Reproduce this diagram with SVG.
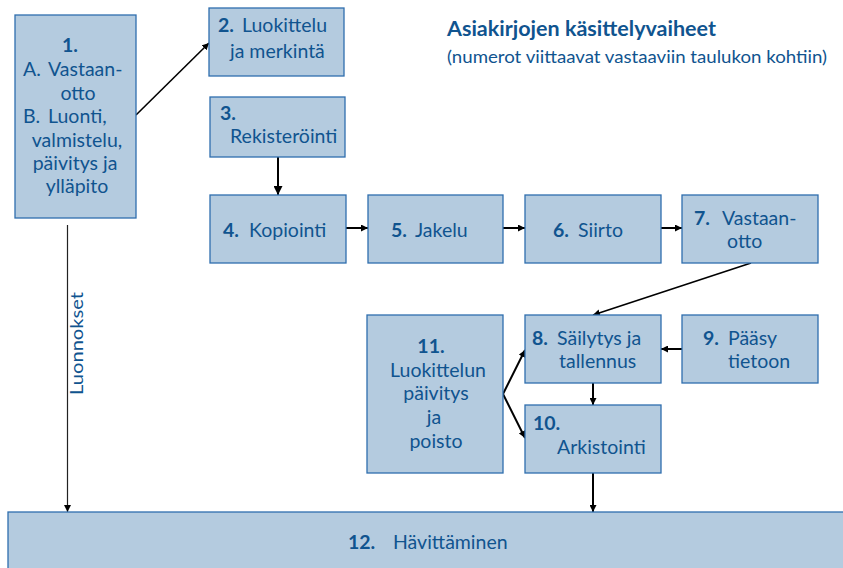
<svg xmlns="http://www.w3.org/2000/svg" width="843" height="568" viewBox="0 0 843 568">
<defs>
<style>
.box{fill:#b4cbdf;stroke:#2e6eae;stroke-width:1.3}
.t{font-family:Lato,"Noto Sans",sans-serif;font-size:19.5px;fill:#10548f}
.b{font-weight:bold}
.m{text-anchor:middle}
.c{stroke:#000;stroke-width:1.6;fill:none}
</style>
<marker id="ah" viewBox="0 0 10 10" refX="10" refY="5" markerWidth="7" markerHeight="7" markerUnits="userSpaceOnUse" orient="auto">
<path d="M0,0 L10,5 L0,10 z" fill="#000"/>
</marker>
<marker id="ah2" viewBox="0 0 10 10" refX="10" refY="5" markerWidth="9" markerHeight="9" markerUnits="userSpaceOnUse" orient="auto">
<path d="M0,0 L10,5 L0,10 z" fill="#000"/>
</marker>
</defs>
<rect width="843" height="568" fill="#fff"/>

<g id="title">
<text x="447" y="36" class="t b" style="font-size:21px" textLength="269" lengthAdjust="spacingAndGlyphs">Asiakirjojen käsittelyvaiheet</text>
<text x="447" y="63" class="t" style="font-size:18px" textLength="380" lengthAdjust="spacingAndGlyphs">(numerot viittaavat vastaaviin taulukon kohtiin)</text>
</g>

<g id="connectors">
<line class="c" x1="136" y1="115" x2="209" y2="43" marker-end="url(#ah)"/>
<line class="c" x1="278" y1="157" x2="278" y2="195" marker-end="url(#ah2)" style="stroke-width:2"/>
<line class="c" x1="346" y1="228" x2="368" y2="228" marker-end="url(#ah)" style="stroke-width:2"/>
<line class="c" x1="503" y1="228" x2="525" y2="228" marker-end="url(#ah)" style="stroke-width:2"/>
<line class="c" x1="661" y1="228" x2="682" y2="228" marker-end="url(#ah)" style="stroke-width:2"/>
<line class="c" x1="751" y1="263" x2="593" y2="315" marker-end="url(#ah)"/>
<line class="c" x1="682" y1="349" x2="661" y2="349" marker-end="url(#ah)" style="stroke-width:2"/>
<line class="c" x1="593" y1="383" x2="593" y2="405" marker-end="url(#ah)" style="stroke-width:2"/>
<line class="c" x1="503" y1="394" x2="525" y2="350" marker-end="url(#ah)" style="stroke-width:2"/>
<line class="c" x1="503" y1="394" x2="525" y2="438" marker-end="url(#ah)" style="stroke-width:2"/>
<line class="c" x1="593" y1="473" x2="593" y2="512" marker-end="url(#ah)" style="stroke-width:2"/>
<line class="c" x1="67.5" y1="225" x2="67.5" y2="512" marker-end="url(#ah)" style="stroke:#222;stroke-width:1.2"/>
<text class="t" style="font-size:17px" transform="translate(83,395) rotate(-90)" textLength="103" lengthAdjust="spacingAndGlyphs">Luonnokset</text>
</g>

<g id="n1">
<rect class="box" x="15" y="15" width="121" height="203"/>
<text class="t b m" x="70" y="52">1.</text>
<text class="t" x="23" y="76">A.<tspan x="48">Vastaan-</tspan></text>
<text class="t m" x="78" y="100">otto</text>
<text class="t" x="23" y="123">B.<tspan x="48">Luonti,</tspan></text>
<text class="t m" x="77" y="147">valmistelu,</text>
<text class="t m" x="75" y="170">päivitys ja</text>
<text class="t m" x="77" y="193">ylläpito</text>
</g>

<g id="n2">
<rect class="box" x="209" y="8" width="135" height="68"/>
<text class="t" x="218" y="32"><tspan class="b">2.</tspan><tspan x="242">Luokittelu</tspan></text>
<text class="t" x="230" y="58">ja merkintä</text>
</g>

<g id="n3">
<rect class="box" x="210" y="97" width="135" height="60"/>
<text class="t b" x="220" y="120">3.</text>
<text class="t" x="230" y="143">Rekisteröinti</text>
</g>

<g id="n4">
<rect class="box" x="210" y="195" width="136" height="68"/>
<text class="t" x="223" y="237"><tspan class="b">4.</tspan><tspan x="249">Kopiointi</tspan></text>
</g>

<g id="n5">
<rect class="box" x="368" y="195" width="135" height="68"/>
<text class="t" x="391" y="237"><tspan class="b">5.</tspan><tspan x="415">Jakelu</tspan></text>
</g>

<g id="n6">
<rect class="box" x="525" y="195" width="136" height="68"/>
<text class="t" x="553" y="237"><tspan class="b">6.</tspan><tspan x="578">Siirto</tspan></text>
</g>

<g id="n7">
<rect class="box" x="682" y="195" width="136" height="68"/>
<text class="t" x="694" y="225"><tspan class="b">7.</tspan><tspan x="722">Vastaan-</tspan></text>
<text class="t" x="727" y="248">otto</text>
</g>

<g id="n8">
<rect class="box" x="525" y="315" width="136" height="68"/>
<text class="t" x="532" y="345"><tspan class="b">8.</tspan><tspan x="557">Säilytys ja</tspan></text>
<text class="t" x="559" y="368">tallennus</text>
</g>

<g id="n9">
<rect class="box" x="682" y="315" width="136" height="68"/>
<text class="t" x="703" y="345"><tspan class="b">9.</tspan><tspan x="728">Pääsy</tspan></text>
<text class="t" x="728" y="368">tietoon</text>
</g>

<g id="n10">
<rect class="box" x="525" y="405" width="136" height="68"/>
<text class="t b" x="533" y="430">10.</text>
<text class="t" x="557" y="454">Arkistointi</text>
</g>

<g id="n11">
<rect class="box" x="367" y="315" width="136" height="158"/>
<text class="t b m" x="431" y="353">11.</text>
<text class="t m" x="438" y="377">Luokittelun</text>
<text class="t m" x="436" y="400">päivitys</text>
<text class="t m" x="434" y="424">ja</text>
<text class="t m" x="436" y="448">poisto</text>
</g>

<g id="n12">
<rect class="box" x="8" y="512" width="845" height="70"/>
<text class="t" x="348" y="549"><tspan class="b">12.</tspan><tspan x="393">Hävittäminen</tspan></text>
</g>
</svg>
